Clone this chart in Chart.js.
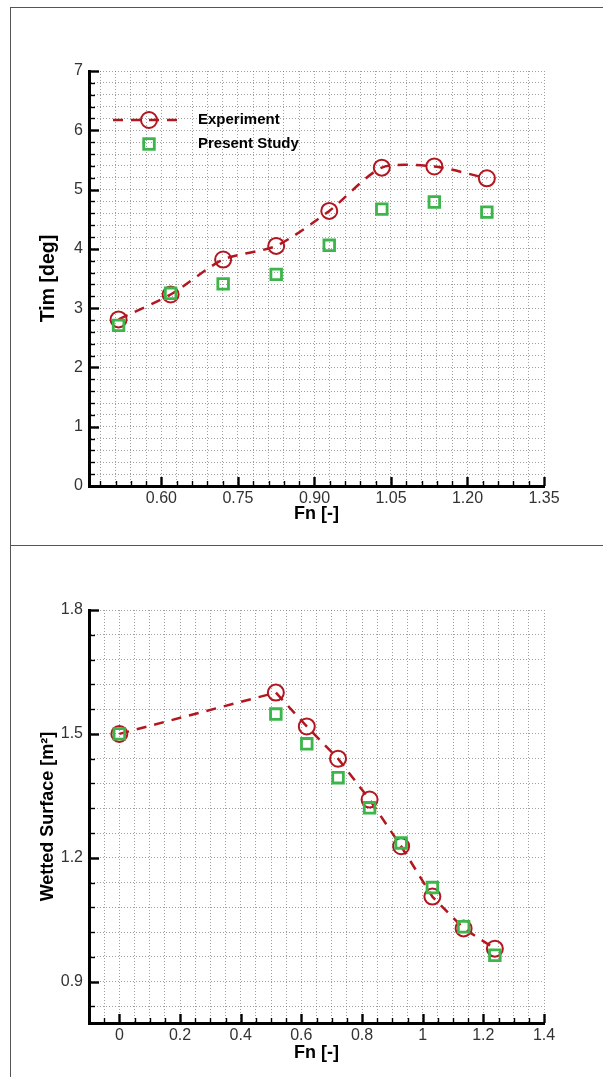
<!DOCTYPE html>
<html>
<head>
<meta charset="utf-8">
<title>Trim and wetted surface vs Fn</title>
<script src="https://cdn.jsdelivr.net/npm/chart.js@4.4.1/dist/chart.umd.min.js"></script>
<style>
  html, body { margin: 0; padding: 0; background: #fff; }
  #page { position: relative; width: 603px; height: 1077px; overflow: hidden; }
  canvas { position: absolute; left: 0; }
  #c1 { top: 0; }
  #c2 { top: 545px; }
  .frame { position: absolute; left: 10px; width: 700px; border-top: 1.5px solid #555; border-left: 1.5px solid #555; }
</style>
</head>
<body>
<div id="page">
  <div class="frame" style="top:7px;height:538px"></div>
  <div class="frame" style="top:545px;height:540px"></div>
  <canvas id="c1" width="603" height="545"></canvas>
  <canvas id="c2" width="603" height="532"></canvas>
</div>
<script>
// Froude numbers of the test runs
const fn = [0.516, 0.618, 0.721, 0.825, 0.929, 1.032, 1.135, 1.238];

// trim angle [deg]
const trimExperiment = [2.81, 3.23, 3.82, 4.05, 4.64, 5.37, 5.39, 5.19];
const trimPresent    = [2.71, 3.25, 3.41, 3.57, 4.06, 4.67, 4.79, 4.62];

// wetted surface [m2], first entry is the static case Fn = 0
const fnWetted = [0].concat(fn);
const wettedExperiment = [1.500, 1.600, 1.518, 1.440, 1.341, 1.228, 1.106, 1.029, 0.980];
const wettedPresent    = [1.500, 1.548, 1.476, 1.394, 1.321, 1.236, 1.128, 1.033, 0.964];

// labelled ticks and minor steps
const trimFnTicks = [0.60, 0.75, 0.90, 1.05, 1.20, 1.35];
const trimTicks = [0, 1, 2, 3, 4, 5, 6, 7];
const wettedFnTicks = [0, 0.2, 0.4, 0.6, 0.8, 1, 1.2, 1.4];
const wettedTicks = [0.9, 1.2, 1.5, 1.8];

const RED = '#b2161f';
const GREEN = '#3cb54a';
const FONT = 'Arial, "Liberation Sans", sans-serif';

const pts = (xs, ys) => xs.map((x, i) => ({x: x, y: ys[i]}));

// minor ticks every `step`, anchored on the labelled ticks
function tickBuilder(major, step) {
  return function (scale) {
    const start = major[0];
    const k0 = Math.ceil((scale.min - start) / step - 1e-6);
    const k1 = Math.floor((scale.max - start) / step + 1e-6);
    const out = [];
    for (let k = k0; k <= k1; k++) {
      const v = +(start + k * step).toFixed(6);
      out.push({value: v, main: major.some(m => Math.abs(m - v) < 1e-6)});
    }
    scale.ticks = out;
  };
}

function labeller(major, fmt) {
  return function (value) {
    return major.some(m => Math.abs(m - value) < 1e-6) ? fmt(value) : '';
  };
}

// tick marks drawn inward from the axis lines
const innerTicks = {
  id: 'innerTicks',
  afterDraw(chart) {
    const {ctx, chartArea: a} = chart;
    const xs = chart.scales.x, ys = chart.scales.y;
    ctx.save();
    ctx.strokeStyle = '#000';
    xs.ticks.forEach(t => {
      const p = Math.round(xs.getPixelForValue(t.value)) + 0.5;
      ctx.lineWidth = t.main ? 2.4 : 1.4;
      ctx.beginPath();
      ctx.moveTo(p, a.bottom);
      ctx.lineTo(p, a.bottom - (t.main ? 9 : 5));
      ctx.stroke();
    });
    ys.ticks.forEach(t => {
      const p = Math.round(ys.getPixelForValue(t.value)) + 0.5;
      ctx.lineWidth = t.main ? 2.4 : 1.4;
      ctx.beginPath();
      ctx.moveTo(a.left, p);
      ctx.lineTo(a.left + (t.main ? 10 : 6), p);
      ctx.stroke();
    });
    ctx.restore();
  }
};

// legend with a dashed line sample through the circle marker
const sampleLegend = {
  id: 'sampleLegend',
  afterDraw(chart, args, opts) {
    const {ctx} = chart;
    const exp = chart.data.datasets[1];
    const cfd = chart.data.datasets[0];
    const cx = opts.x, y1 = opts.y, y2 = opts.y + opts.gap;
    ctx.save();
    ctx.strokeStyle = exp.borderColor;
    ctx.lineWidth = exp.borderWidth;
    ctx.setLineDash(exp.borderDash);
    ctx.beginPath();
    ctx.moveTo(cx - 36, y1);
    ctx.lineTo(cx + 31, y1);
    ctx.stroke();
    ctx.setLineDash([]);
    ctx.lineWidth = exp.pointBorderWidth;
    ctx.beginPath();
    ctx.arc(cx, y1, exp.pointRadius, 0, Math.PI * 2);
    ctx.stroke();
    const h = cfd.pointRadius * Math.SQRT1_2;
    ctx.strokeStyle = cfd.pointBorderColor;
    ctx.lineWidth = cfd.pointBorderWidth;
    ctx.strokeRect(cx - h, y2 - h, 2 * h, 2 * h);
    ctx.fillStyle = '#000';
    ctx.font = 'bold 15px ' + FONT;
    ctx.textBaseline = 'middle';
    ctx.fillText('Experiment', opts.textX, y1);
    ctx.fillText('Present Study', opts.textX, y2);
    ctx.restore();
  }
};

function makeChart(id, o) {
  const grid = {color: 'rgba(95,95,95,0.6)', lineWidth: 1, drawTicks: false};
  // border.dash styles the grid lines in v4; the axis line itself stays solid
  const border = {display: true, color: '#000', width: 3, dash: [1, 2]};
  return new Chart(document.getElementById(id), {
    type: 'scatter',
    data: {
      datasets: [
        {
          label: 'Present Study',
          data: o.present,
          order: 0,
          showLine: false,
          pointStyle: 'rect',
          pointRadius: 7.5,
          pointBorderWidth: 2.8,
          pointBorderColor: GREEN,
          pointBackgroundColor: 'rgba(0,0,0,0)'
        },
        {
          label: 'Experiment',
          data: o.experiment,
          order: 1,
          showLine: true,
          tension: o.tension,
          borderColor: RED,
          borderWidth: 2.5,
          borderDash: [10, 8],
          pointStyle: 'circle',
          pointRadius: 8,
          pointBorderWidth: 2,
          pointBorderColor: RED,
          pointBackgroundColor: 'rgba(0,0,0,0)'
        }
      ]
    },
    options: {
      responsive: false,
      animation: false,
      devicePixelRatio: 1,
      layout: {padding: {left: 0, right: 59, top: o.top, bottom: 0}},
      plugins: {
        legend: {display: false},
        tooltip: {enabled: false},
        sampleLegend: o.legend
      },
      scales: {
        x: {
          type: 'linear',
          min: o.xMin, max: o.xMax,
          afterBuildTicks: tickBuilder(o.xTicks, o.xStep),
          afterFit: s => { s.height = o.xBox; },
          grid: grid, border: border,
          ticks: {
            autoSkip: false, maxRotation: 0, minRotation: 0, padding: 3,
            color: '#333', font: {family: FONT, size: 16},
            callback: labeller(o.xTicks, o.xFmt)
          },
          title: {
            display: true, text: 'Fn [-]', color: '#000',
            font: {family: FONT, size: 18, weight: 'bold'},
            padding: {top: 0, bottom: o.xTitlePad}
          }
        },
        y: {
          type: 'linear',
          min: o.yMin, max: o.yMax,
          afterBuildTicks: tickBuilder(o.yTicks, o.yStep),
          afterFit: s => { s.width = 89; },
          grid: grid, border: border,
          ticks: {
            autoSkip: false, padding: 6,
            color: '#333', font: {family: FONT, size: 16},
            callback: labeller(o.yTicks, o.yFmt)
          },
          title: {
            display: true, text: o.yTitle, color: '#000',
            font: {family: FONT, size: o.yTitleSize, weight: 'bold'},
            padding: {top: 37, bottom: 0}
          }
        }
      }
    },
    plugins: [innerTicks, sampleLegend]
  });
}

makeChart('c1', {
  experiment: pts(fn, trimExperiment),
  present: pts(fn, trimPresent),
  tension: 0.25,
  top: 71, xBox: 59, xTitlePad: 20,
  xMin: 0.458, xMax: 1.35, xTicks: trimFnTicks, xStep: 0.03, xFmt: v => v.toFixed(2),
  yMin: 0, yMax: 7, yTicks: trimTicks, yStep: 0.2, yFmt: v => String(v),
  yTitle: 'Tim [deg]', yTitleSize: 19.5,
  legend: {x: 149, y: 120, gap: 24, textX: 198}
});

makeChart('c2', {
  experiment: pts(fnWetted, wettedExperiment),
  present: pts(fnWetted, wettedPresent),
  tension: 0,
  top: 65, xBox: 54, xTitlePad: 13,
  xMin: -0.1, xMax: 1.4, xTicks: wettedFnTicks, xStep: 0.05, xFmt: v => String(+v.toFixed(1)),
  yMin: 0.8, yMax: 1.8, yTicks: wettedTicks, yStep: 0.06, yFmt: v => v.toFixed(1),
  yTitle: 'Wetted Surface [m²]', yTitleSize: 18,
  legend: {x: 312, y: 649, gap: 22, textX: 363}
});
</script>
</body>
</html>
